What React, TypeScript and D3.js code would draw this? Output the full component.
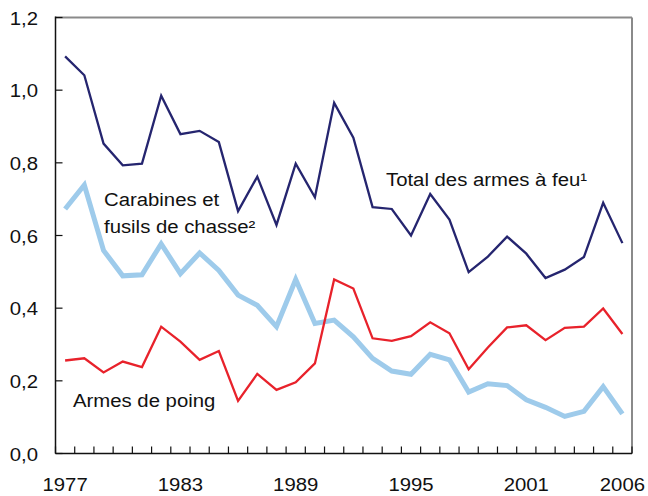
import React from "react";
import * as d3 from "d3";

const years = d3.range(1977, 2007);
const tickYears = [1977, 1983, 1989, 1995, 2001, 2006];
const yTicks = [0, 0.2, 0.4, 0.6, 0.8, 1.0, 1.2];

const total = [
  1.093, 1.041, 0.853, 0.793, 0.798, 0.985, 0.879, 0.888, 0.857, 0.667,
  0.762, 0.629, 0.798, 0.705, 0.965, 0.869, 0.678, 0.673, 0.6, 0.714,
  0.644, 0.499, 0.542, 0.597, 0.55, 0.483, 0.506, 0.541, 0.69, 0.579,
];
const carabines = [
  0.673, 0.739, 0.559, 0.489, 0.492, 0.577, 0.495, 0.552, 0.504, 0.436,
  0.408, 0.349, 0.479, 0.358, 0.367, 0.321, 0.262, 0.227, 0.218, 0.273,
  0.258, 0.169, 0.192, 0.187, 0.148, 0.127, 0.102, 0.116, 0.184, 0.109,
];
const poing = [
  0.256, 0.262, 0.223, 0.253, 0.238, 0.349, 0.308, 0.258, 0.282, 0.145,
  0.219, 0.175, 0.196, 0.248, 0.479, 0.454, 0.317, 0.31, 0.323, 0.361,
  0.331, 0.232, 0.292, 0.347, 0.353, 0.312, 0.346, 0.349, 0.399, 0.329,
];

const W = 648, H = 496;
const left = 55.5, right = 632, top = 17.5, bottom = 453.5;
const font = "'Liberation Sans', Arial, Helvetica, sans-serif";
const stretch = 1.13;

function Label({ x, y, anchor = "start", children }: any) {
  return (
    <text transform={`translate(${x},${y}) scale(${stretch},1)`} textAnchor={anchor}
      fontFamily={font} fontSize={18} fill="#111">{children}</text>
  );
}

export default function App() {
  const x = d3.scaleBand<number>().domain(years).range([left, right]).padding(0);
  const y = d3.scaleLinear().domain([0, 1.2]).range([bottom, top]);
  const cx = (yr: number) => (x(yr) as number) + x.bandwidth() / 2;
  const line = d3.line<number>().x((_, i) => cx(years[i])).y((d) => y(d));

  const boundaries = d3.range(0, years.length + 1).map((i) => left + i * x.bandwidth());

  return (
    <svg width={W} height={H} style={{ position: "absolute", left: 0, top: 0, background: "#fff" }}>
      {/* frame */}
      <line x1={left} x2={right} y1={top} y2={top} stroke="#8a8a8a" strokeWidth={2} />
      <line x1={right} x2={right} y1={top} y2={bottom} stroke="#8a8a8a" strokeWidth={2} />
      <line x1={left} x2={left} y1={top - 1} y2={bottom} stroke="#111" strokeWidth={1.5} />
      <line x1={left} x2={right} y1={bottom} y2={bottom} stroke="#111" strokeWidth={1.5} />

      {yTicks.map((t) => (
        <g key={t}>
          <line x1={left} x2={left + 7} y1={y(t)} y2={y(t)} stroke="#111" strokeWidth={1.2} />
          <Label x={38} y={y(t) + 7} anchor="end">{t.toFixed(1).replace(".", ",")}</Label>
        </g>
      ))}
      {boundaries.map((b, i) => (
        <line key={i} x1={b} x2={b} y1={bottom} y2={bottom - 7} stroke="#111" strokeWidth={1.2} />
      ))}
      {tickYears.map((yr) => (
        <Label key={yr} x={cx(yr)} y={491} anchor="middle">{yr}</Label>
      ))}

      <path d={line(carabines) || ""} fill="none" stroke="#9ecbeb" strokeWidth={5} strokeLinejoin="miter" />
      <path d={line(poing) || ""} fill="none" stroke="#e8222b" strokeWidth={2.3} />
      <path d={line(total) || ""} fill="none" stroke="#25256f" strokeWidth={2.3} />

      <Label x={386} y={186}>Total des armes à feu¹</Label>
      <Label x={104} y={206}>Carabines et</Label>
      <Label x={104} y={233}>fusils de chasse²</Label>
      <Label x={73} y={407}>Armes de poing</Label>
    </svg>
  );
}
